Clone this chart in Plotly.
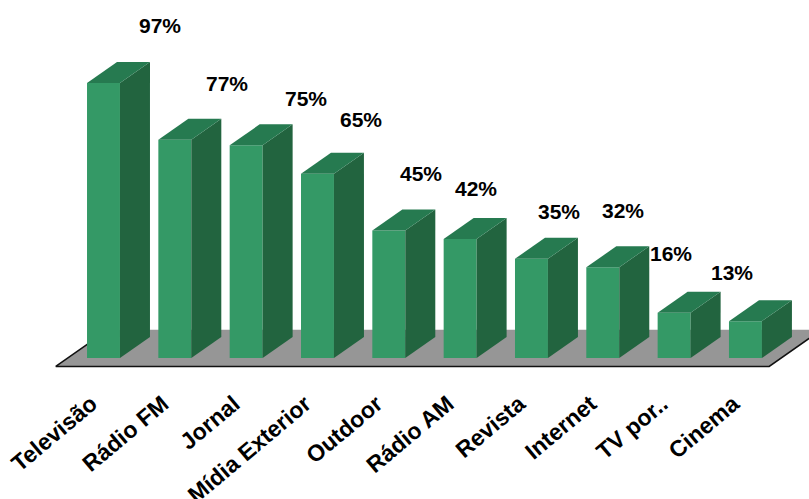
import plotly.graph_objects as go

# ---- data ----
categories = ["Televisão", "Rádio FM", "Jornal", "Mídia Exterior", "Outdoor",
              "Rádio AM", "Revista", "Internet", "TV por..", "Cinema"]
values = [97, 77, 75, 65, 45, 42, 35, 32, 16, 13]
value_labels = [f"{v}%" for v in values]

# ---- style ----
FRONT = "#349966"
TOP = "#267A50"
SIDE = "#22643F"
FLOOR = "#969696"
FONT = "Liberation Sans"
HW = 0.231          # half bar width (category units)
OX, OY = 0.4206, 7.41   # 3D depth offset per unit depth (x units, y units)
FLOOR_MARGIN = 0.27
FLOOR_D0, FLOOR_D1 = -0.4, 1.35
# pixel nudges for the value labels (as Excel placed them)
label_nudge = [(56.5, 57.5), (52, 56), (60, 47), (43.5, 54.5), (32, 57),
               (16, 50.5), (27.5, 47.5), (20, 57), (-3.5, 59.5), (-13, 48.5)]

n = len(categories)
xs = list(range(n))
fig = go.Figure()


def poly(px, py, color):
    fig.add_trace(go.Scatter(x=px + [px[0]], y=py + [py[0]], mode="lines",
                             fill="toself", fillcolor=color,
                             line=dict(width=0, color=color),
                             hoverinfo="skip", showlegend=False))


# floor
fl = -HW - FLOOR_MARGIN
fr = (n - 1) + HW + FLOOR_MARGIN
fx = [fl + FLOOR_D0 * OX, fr + FLOOR_D0 * OX, fr + FLOOR_D1 * OX, fl + FLOOR_D1 * OX]
fy = [FLOOR_D0 * OY, FLOOR_D0 * OY, FLOOR_D1 * OY, FLOOR_D1 * OY]
poly(fx, fy, FLOOR)
fig.add_trace(go.Scatter(x=[fx[3], fx[0], fx[1], fx[2]], y=[fy[3], fy[0], fy[1], fy[2]],
                         mode="lines", line=dict(color="#111111", width=1.5),
                         hoverinfo="skip", showlegend=False))

# bars
for x, v in zip(xs, values):
    l, r = x - HW, x + HW
    poly([l, r, r, l], [0, 0, v, v], FRONT)
    poly([r, r + OX, r + OX, r], [0, OY, v + OY, v], SIDE)
    poly([l, r, r + OX, l + OX], [v, v, v + OY, v + OY], TOP)

# value labels
for x, v, t, (dx, dy) in zip(xs, values, value_labels, label_nudge):
    fig.add_annotation(x=x, y=v, text=t, showarrow=False, xshift=dx, yshift=dy,
                       font=dict(family=FONT, size=21, color="black", weight="bold"))

fig.update_layout(
    width=809, height=499,
    margin=dict(l=0, r=0, t=0, b=120, autoexpand=False),
    paper_bgcolor="white", plot_bgcolor="white",
    xaxis=dict(range=[-1.451, 9.891], tickvals=[x - 0.17 for x in xs], ticktext=categories,
               tickangle=-40, showgrid=False, zeroline=False, showline=False,
               ticks="", ticklabelstandoff=6, automargin=False,
               tickfont=dict(family=FONT, size=23, color="black", weight="bold")),
    yaxis=dict(range=[-7.41, 126.28], visible=False, automargin=False),
)

fig.write_html("out.html", config={"displayModeBar": False},
               post_script="document.body.style.margin='0px';")
